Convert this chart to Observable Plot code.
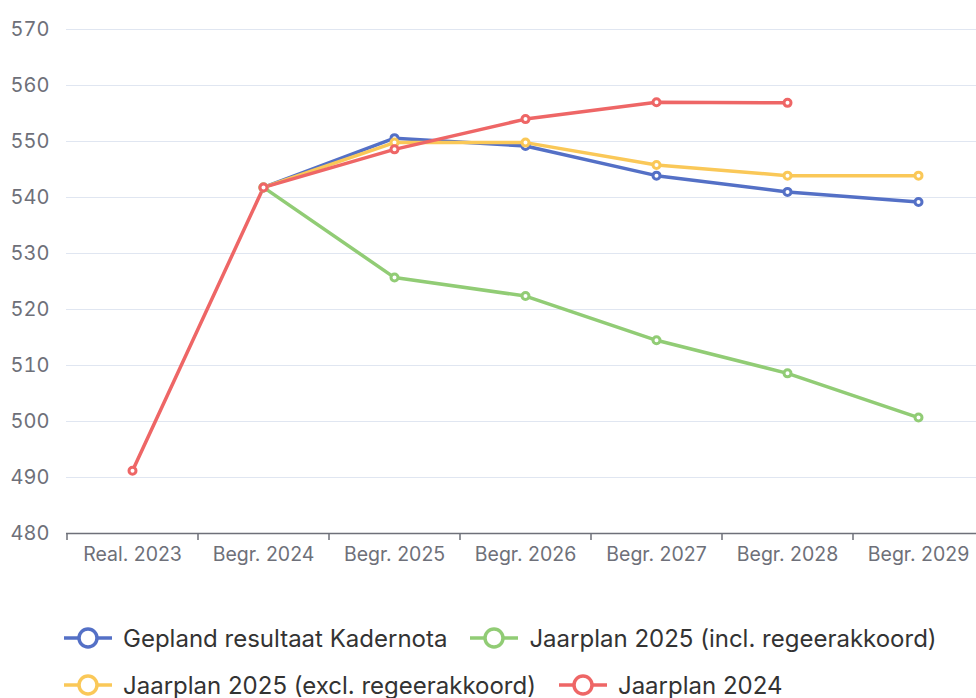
<!DOCTYPE html>
<html>
<head>
<meta charset="utf-8">
<script src="https://cdn.jsdelivr.net/npm/d3@7"></script>
<script src="https://cdn.jsdelivr.net/npm/@observablehq/plot@0.6"></script>
<style>
  html, body { margin: 0; padding: 0; background: #fff; overflow: hidden; }
  body { width: 976px; height: 698px; font-family: Inter, "Noto Sans", sans-serif; }
  #chart svg { display: block; }
  .legend { position: relative; height: 98px; }
  .row { position: absolute; left: 64px; display: flex; align-items: center; gap: 23px; height: 30px; }
  .item { display: flex; align-items: center; gap: 11px; font-size: 24px; color: #333; white-space: nowrap; }
  .item svg { display: block; }
</style>
</head>
<body>
<div id="chart"></div>
<div class="legend" id="legend"></div>
<script>
const categories = ["Real. 2023", "Begr. 2024", "Begr. 2025", "Begr. 2026", "Begr. 2027", "Begr. 2028", "Begr. 2029"];
const seriesNames = ["Gepland resultaat Kadernota", "Jaarplan 2025 (incl. regeerakkoord)", "Jaarplan 2025 (excl. regeerakkoord)", "Jaarplan 2024"];
const seriesColors = ["#5470c6", "#91cc75", "#fac858", "#ee6666"];
const kadernota = [null, 541.8, 550.6, 549.2, 543.9, 541.0, 539.2];
const jaarplan2025incl = [null, 541.8, 525.7, 522.4, 514.5, 508.6, 500.7];
const jaarplan2025excl = [null, 541.8, 549.8, 549.8, 545.8, 543.9, 543.9];
const jaarplan2024 = [491.2, 541.8, 548.6, 554.0, 557.0, 556.9, null];
const yTicks = [480, 490, 500, 510, 520, 530, 540, 550, 560, 570];

const allSeries = [kadernota, jaarplan2025incl, jaarplan2025excl, jaarplan2024];
const data = [];
allSeries.forEach((vals, s) => {
  vals.forEach((v, i) => {
    if (v !== null) data.push({series: seriesNames[s], category: categories[i], value: v});
  });
});

const step = (983 - 66) / categories.length;

const plot = Plot.plot({
  width: 976,
  height: 600,
  marginLeft: 66,
  marginRight: -7,
  marginTop: 29,
  marginBottom: 67,
  style: { fontFamily: "Inter, 'Noto Sans', sans-serif", background: "#fff" },
  x: { type: "point", domain: categories, padding: 0.5, label: null },
  y: { domain: [480, 570], label: null },
  color: { domain: seriesNames, range: seriesColors },
  marks: [
    Plot.gridY(yTicks, { stroke: "#e0e6f1", strokeOpacity: 1, strokeWidth: 1.2 }),
    Plot.axisY(yTicks, { tickSize: 0, tickPadding: 17, fontSize: 20, fill: "#6e7079", label: null }),
    Plot.ruleY([480], { stroke: "#6e7079", strokeWidth: 1.5 }),
    Plot.axisX(categories, { text: null, tickSize: 7, dx: -step / 2, stroke: "#6e7079", strokeWidth: 1.5, label: null }),
    Plot.axisX(categories.slice(-1), { text: null, tickSize: 7, dx: step / 2, stroke: "#6e7079", strokeWidth: 1.5, label: null }),
    Plot.axisX(categories, { tickSize: 0, tickPadding: 14, fontSize: 19.5, fill: "#6e7079", label: null }),
    Plot.line(data, { x: "category", y: "value", z: "series", stroke: "series", strokeWidth: 3.5, curve: "linear" }),
    Plot.dot(data, { x: "category", y: "value", stroke: "series", fill: "#fff", r: 3.5, strokeWidth: 3 })
  ]
});
document.getElementById("chart").appendChild(plot);

// Legend
const legend = document.getElementById("legend");
const rows = [[0, 1], [2, 3]];
const rowTops = [23, 70];
rows.forEach((idxs, r) => {
  const row = document.createElement("div");
  row.className = "row";
  row.style.top = rowTops[r] + "px";
  idxs.forEach(i => {
    const item = document.createElement("div");
    item.className = "item";
    const c = seriesColors[i];
    item.innerHTML = `<svg width="48" height="24" viewBox="0 0 48 24"><line x1="0" y1="12" x2="48" y2="12" stroke="${c}" stroke-width="3.5"/><circle cx="24" cy="12" r="9" fill="#fff" stroke="${c}" stroke-width="3.5"/></svg><span>${seriesNames[i]}</span>`;
    row.appendChild(item);
  });
  legend.appendChild(row);
});
</script>
</body>
</html>
